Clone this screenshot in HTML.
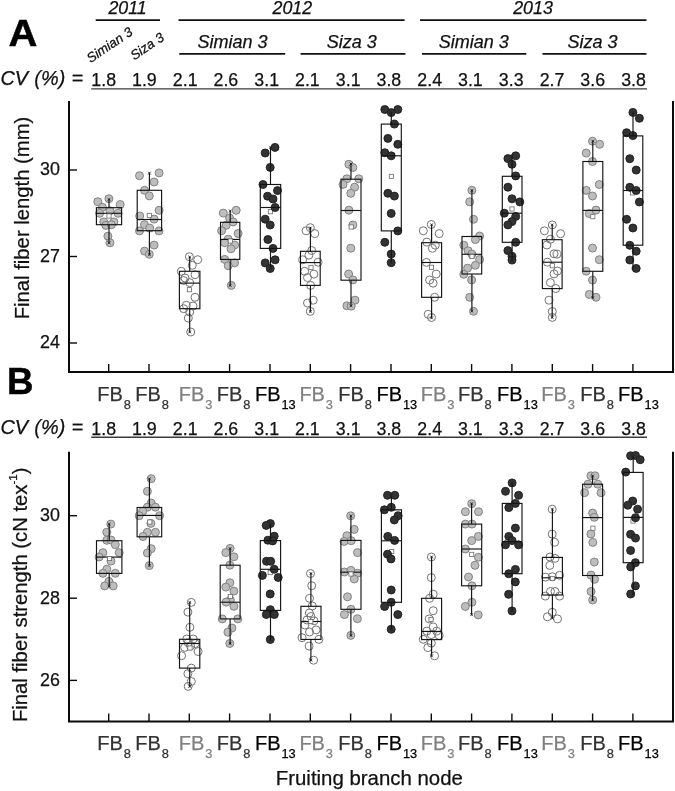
<!DOCTYPE html>
<html lang="en"><head><meta charset="utf-8"><title>Fiber box plots</title>
<style>html,body{margin:0;padding:0;background:#fff}svg{display:block}text{font-family:"Liberation Sans", Arial, sans-serif;fill:#111;stroke:#111;stroke-width:.25}.ax{stroke:#0a0a0a;stroke-width:2;fill:none;stroke-linejoin:miter}.tk{stroke:#0a0a0a;stroke-width:1.4;fill:none}.hl{stroke:#111;stroke-width:1.6;fill:none}.ul{stroke:#3a3a3a;stroke-width:1.4;fill:none}.g{fill:#bdbdbd;stroke:#7a7a7a;stroke-width:.9}.o{fill:none;stroke:#747474;stroke-width:1}.b{fill:#333;stroke:#1c1c1c;stroke-width:.9}.bx{fill:none;stroke:#141414;stroke-width:1.15}.wh{stroke:#141414;stroke-width:1.15;fill:none}.mk{stroke:#222;stroke-width:.6;fill:none}.mn{fill:#fff;stroke:#6a6a6a;stroke-width:.8}.it{font-style:italic}</style></head><body>
<svg width="675" height="791" viewBox="0 0 675 791">
<rect width="675" height="791" fill="#fff"/>
<text class="it" x="127.6" y="13.6" font-size="17.8" text-anchor="middle">2011</text>
<text class="it" x="292.3" y="13.6" font-size="17.8" text-anchor="middle">2012</text>
<text class="it" x="533.0" y="13.6" font-size="17.8" text-anchor="middle">2013</text>
<path class="hl" d="M95.7 20.1H160"/>
<path class="hl" d="M178.5 20.1H404.6"/>
<path class="hl" d="M420 20.1H646.5"/>
<text class="it" x="232.6" y="48.2" font-size="18" text-anchor="middle">Simian 3</text>
<text class="it" x="351.8" y="48.2" font-size="18" text-anchor="middle">Siza 3</text>
<text class="it" x="473.8" y="48.2" font-size="18" text-anchor="middle">Simian 3</text>
<text class="it" x="592.6" y="48.2" font-size="18" text-anchor="middle">Siza 3</text>
<path class="hl" d="M179.3 53.9H285.2"/>
<path class="hl" d="M300.6 53.9H405.4"/>
<path class="hl" d="M422 53.9H526.3"/>
<path class="hl" d="M542.5 53.9H646.5"/>
<text class="it" font-size="13.4" transform="translate(90.5,63.2) rotate(-34)">Simian 3</text>
<text class="it" font-size="13.4" transform="translate(134.2,60.5) rotate(-34)">Siza 3</text>
<text class="it" x="0.4" y="85.3" font-size="19.9" style="word-spacing:.8px">CV (%) =</text>
<text x="103.7" y="86.05" font-size="17.8" text-anchor="middle">1.8</text>
<text x="144.4" y="86.05" font-size="17.8" text-anchor="middle">1.9</text>
<text x="185.2" y="86.05" font-size="17.8" text-anchor="middle">2.1</text>
<text x="225.9" y="86.05" font-size="17.8" text-anchor="middle">2.6</text>
<text x="266.7" y="86.05" font-size="17.8" text-anchor="middle">3.1</text>
<text x="307.4" y="86.05" font-size="17.8" text-anchor="middle">2.1</text>
<text x="348.2" y="86.05" font-size="17.8" text-anchor="middle">3.1</text>
<text x="388.9" y="86.05" font-size="17.8" text-anchor="middle">3.8</text>
<text x="429.7" y="86.05" font-size="17.8" text-anchor="middle">2.4</text>
<text x="470.4" y="86.05" font-size="17.8" text-anchor="middle">3.1</text>
<text x="511.2" y="86.05" font-size="17.8" text-anchor="middle">3.3</text>
<text x="552.0" y="86.05" font-size="17.8" text-anchor="middle">2.7</text>
<text x="592.7" y="86.05" font-size="17.8" text-anchor="middle">3.6</text>
<text x="633.5" y="86.05" font-size="17.8" text-anchor="middle">3.8</text>
<path class="ul" d="M91.2 88.9H647"/>
<path class="ax" d="M69 101.0V372.0H673V101.0"/>
<path class="tk" d="M108.7 372.0V364.1"/>
<path class="tk" d="M149.0 372.0V364.1"/>
<path class="tk" d="M189.3 372.0V364.1"/>
<path class="tk" d="M229.6 372.0V364.1"/>
<path class="tk" d="M270.0 372.0V364.1"/>
<path class="tk" d="M310.3 372.0V364.1"/>
<path class="tk" d="M350.6 372.0V364.1"/>
<path class="tk" d="M391.0 372.0V364.1"/>
<path class="tk" d="M431.3 372.0V364.1"/>
<path class="tk" d="M471.6 372.0V364.1"/>
<path class="tk" d="M511.9 372.0V364.1"/>
<path class="tk" d="M552.3 372.0V364.1"/>
<path class="tk" d="M592.6 372.0V364.1"/>
<path class="tk" d="M632.9 372.0V364.1"/>
<path class="tk" d="M69 170.0H77"/>
<text x="60" y="175.4" font-size="17.9" text-anchor="end">30</text>
<path class="tk" d="M69 256.5H77"/>
<text x="60" y="261.9" font-size="17.9" text-anchor="end">27</text>
<path class="tk" d="M69 343.0H77"/>
<text x="60" y="348.4" font-size="17.9" text-anchor="end">24</text>
<text font-size="37" font-weight="bold" style="fill:#000;stroke:#000;stroke-width:.5" transform="translate(8.6,46.0) scale(1.08,1)">A</text>
<text font-size="20.25" text-anchor="middle" transform="translate(29.3,218.0) rotate(-90)">Final fiber length (mm)</text>
<circle class="g" cx="97.8" cy="201.7" r="4.0"/>
<circle class="g" cx="108.9" cy="198.7" r="4.0"/>
<circle class="g" cx="120.2" cy="204.5" r="4.0"/>
<circle class="g" cx="102.4" cy="207.3" r="4.0"/>
<circle class="g" cx="99.6" cy="213.3" r="4.0"/>
<circle class="g" cx="110" cy="210.8" r="4.0"/>
<circle class="g" cx="118.1" cy="213.3" r="4.0"/>
<circle class="g" cx="103.8" cy="221.9" r="4.0"/>
<circle class="g" cx="113.9" cy="221.9" r="4.0"/>
<circle class="g" cx="105.9" cy="225.4" r="4.0"/>
<circle class="g" cx="111.4" cy="224.7" r="4.0"/>
<circle class="g" cx="107.9" cy="236.2" r="4.0"/>
<circle class="g" cx="110" cy="242.8" r="4.0"/>
<path class="wh" d="M109.0 199.4V207.7M109.0 224.7V242.8"/>
<rect class="bx" x="96.4" y="207.7" width="25.2" height="17.0"/>
<path class="bx" d="M96.4 213.3H121.6"/>
<rect class="mn" x="106.9" y="213.9" width="4.2" height="4.2"/>
<path class="mk" d="M107.4 197.8l3.2 3.2M110.6 197.8l-3.2 3.2"/><circle cx="109.0" cy="199.4" r=".9" fill="#222"/>
<path class="mk" d="M107.4 241.2l3.2 3.2M110.6 241.2l-3.2 3.2"/><circle cx="109.0" cy="242.8" r=".9" fill="#222"/>
<circle class="g" cx="139.5" cy="175.7" r="4.0"/>
<circle class="g" cx="159.1" cy="172.9" r="4.0"/>
<circle class="g" cx="154.1" cy="182" r="4.0"/>
<circle class="g" cx="144.5" cy="190.3" r="4.0"/>
<circle class="g" cx="149.3" cy="195.9" r="4.0"/>
<circle class="g" cx="159.1" cy="210.3" r="4.0"/>
<circle class="g" cx="139.7" cy="216" r="4.0"/>
<circle class="g" cx="154.1" cy="219.1" r="4.0"/>
<circle class="g" cx="144.5" cy="224.7" r="4.0"/>
<circle class="g" cx="149.7" cy="228.1" r="4.0"/>
<circle class="g" cx="139.5" cy="230.9" r="4.0"/>
<circle class="g" cx="159" cy="230.9" r="4.0"/>
<circle class="g" cx="154.1" cy="245.1" r="4.0"/>
<circle class="g" cx="144.5" cy="251.1" r="4.0"/>
<circle class="g" cx="149.3" cy="254.3" r="4.0"/>
<path class="wh" d="M149.4 173.2V190.3M149.4 230.7V254.6"/>
<rect class="bx" x="137.2" y="190.3" width="24.4" height="40.4"/>
<path class="bx" d="M137.2 219.5H161.6"/>
<rect class="mn" x="147.2" y="213.3" width="4.2" height="4.2"/>
<path class="mk" d="M147.8 171.6l3.2 3.2M151.0 171.6l-3.2 3.2"/><circle cx="149.4" cy="173.2" r=".9" fill="#222"/>
<path class="mk" d="M147.8 253.0l3.2 3.2M151.0 253.0l-3.2 3.2"/><circle cx="149.4" cy="254.6" r=".9" fill="#222"/>
<circle class="o" cx="189.4" cy="256.7" r="4.0"/>
<circle class="o" cx="197.7" cy="259.7" r="4.0"/>
<circle class="o" cx="192.3" cy="265.3" r="4.0"/>
<circle class="o" cx="181.3" cy="271.3" r="4.0"/>
<circle class="o" cx="195" cy="274.7" r="4.0"/>
<circle class="o" cx="185" cy="278" r="4.0"/>
<circle class="o" cx="183.7" cy="280.5" r="4.0"/>
<circle class="o" cx="189.7" cy="282.7" r="4.0"/>
<circle class="o" cx="195" cy="297.3" r="4.0"/>
<circle class="o" cx="186.3" cy="305.3" r="4.0"/>
<circle class="o" cx="193" cy="306" r="4.0"/>
<circle class="o" cx="183.7" cy="308.7" r="4.0"/>
<circle class="o" cx="189.7" cy="312" r="4.0"/>
<circle class="o" cx="188.3" cy="318" r="4.0"/>
<circle class="o" cx="190.7" cy="332" r="4.0"/>
<path class="wh" d="M189.7 257.1V271.3M189.7 308.7V332.0"/>
<rect class="bx" x="179.4" y="271.3" width="20.5" height="37.4"/>
<path class="bx" d="M179.4 283.1H199.9"/>
<rect class="mn" x="187.3" y="287.6" width="4.2" height="4.2"/>
<path class="mk" d="M188.1 255.5l3.2 3.2M191.2 255.5l-3.2 3.2"/><circle cx="189.7" cy="257.1" r=".9" fill="#222"/>
<path class="mk" d="M188.1 330.4l3.2 3.2M191.2 330.4l-3.2 3.2"/><circle cx="189.7" cy="332.0" r=".9" fill="#222"/>
<circle class="g" cx="223.3" cy="213.1" r="4.0"/>
<circle class="g" cx="236.2" cy="210.3" r="4.0"/>
<circle class="g" cx="229.6" cy="218" r="4.0"/>
<circle class="g" cx="233.1" cy="222" r="4.0"/>
<circle class="g" cx="226.1" cy="225.3" r="4.0"/>
<circle class="g" cx="221.6" cy="230.7" r="4.0"/>
<circle class="g" cx="238.1" cy="233.5" r="4.0"/>
<circle class="g" cx="228.2" cy="239.2" r="4.0"/>
<circle class="g" cx="224.7" cy="242.7" r="4.0"/>
<circle class="g" cx="234.6" cy="245" r="4.0"/>
<circle class="g" cx="231" cy="248.8" r="4.0"/>
<circle class="g" cx="224.7" cy="259.4" r="4.0"/>
<circle class="g" cx="234.6" cy="262.9" r="4.0"/>
<circle class="g" cx="228.2" cy="265.7" r="4.0"/>
<circle class="g" cx="231.3" cy="285.4" r="4.0"/>
<path class="wh" d="M230.2 211.0V222.3M230.2 259.4V285.4"/>
<rect class="bx" x="220.5" y="222.3" width="19.3" height="37.1"/>
<path class="bx" d="M220.5 239.4H239.8"/>
<rect class="mn" x="228.2" y="238.9" width="4.2" height="4.2"/>
<path class="mk" d="M228.6 209.4l3.2 3.2M231.8 209.4l-3.2 3.2"/><circle cx="230.2" cy="211.0" r=".9" fill="#222"/>
<path class="mk" d="M228.6 283.8l3.2 3.2M231.8 283.8l-3.2 3.2"/><circle cx="230.2" cy="285.4" r=".9" fill="#222"/>
<rect class="mn" x="268.3" y="209.6" width="4.2" height="4.2"/>
<circle class="b" cx="275" cy="147.4" r="4.0"/>
<circle class="b" cx="265.2" cy="153" r="4.0"/>
<circle class="b" cx="270.2" cy="167.4" r="4.0"/>
<circle class="b" cx="263" cy="184.5" r="4.0"/>
<circle class="b" cx="277.5" cy="190.6" r="4.0"/>
<circle class="b" cx="267.6" cy="196.2" r="4.0"/>
<circle class="b" cx="273" cy="199" r="4.0"/>
<circle class="b" cx="275.1" cy="207.5" r="4.0"/>
<circle class="b" cx="265.2" cy="219.2" r="4.0"/>
<circle class="b" cx="270.2" cy="225" r="4.0"/>
<circle class="b" cx="267.9" cy="239.5" r="4.0"/>
<circle class="b" cx="273" cy="248.4" r="4.0"/>
<circle class="b" cx="275.1" cy="259.8" r="4.0"/>
<circle class="b" cx="265.2" cy="262.9" r="4.0"/>
<circle class="b" cx="270.2" cy="268.5" r="4.0"/>
<path class="wh" d="M270.5 147.4V184.5M270.5 248.4V268.5"/>
<rect class="bx" x="260.3" y="184.5" width="20.4" height="63.9"/>
<path class="bx" d="M260.3 207.5H280.7"/>
<path class="mk" d="M268.9 145.8l3.2 3.2M272.1 145.8l-3.2 3.2"/><circle cx="270.5" cy="147.4" r=".9" fill="#222"/>
<path class="mk" d="M268.9 266.9l3.2 3.2M272.1 266.9l-3.2 3.2"/><circle cx="270.5" cy="268.5" r=".9" fill="#222"/>
<circle class="o" cx="310.3" cy="227.7" r="4.0"/>
<circle class="o" cx="306.1" cy="230.8" r="4.0"/>
<circle class="o" cx="314.8" cy="233.6" r="4.0"/>
<circle class="o" cx="311.7" cy="250.5" r="4.0"/>
<circle class="o" cx="308.9" cy="255.1" r="4.0"/>
<circle class="o" cx="302.6" cy="259.8" r="4.0"/>
<circle class="o" cx="318.1" cy="262.2" r="4.0"/>
<circle class="o" cx="304.7" cy="271.3" r="4.0"/>
<circle class="o" cx="313.9" cy="274.1" r="4.0"/>
<circle class="o" cx="307.5" cy="277.6" r="4.0"/>
<circle class="o" cx="310.6" cy="285.4" r="4.0"/>
<circle class="o" cx="313.2" cy="300.2" r="4.0"/>
<circle class="o" cx="307.5" cy="303" r="4.0"/>
<circle class="o" cx="310.3" cy="311.4" r="4.0"/>
<path class="wh" d="M310.4 228.0V251.3M310.4 285.4V311.5"/>
<rect class="bx" x="300.5" y="251.3" width="19.7" height="34.1"/>
<path class="bx" d="M300.5 262.6H320.2"/>
<rect class="mn" x="308.9" y="265.3" width="4.2" height="4.2"/>
<path class="mk" d="M308.8 226.4l3.2 3.2M312.0 226.4l-3.2 3.2"/><circle cx="310.4" cy="228.0" r=".9" fill="#222"/>
<path class="mk" d="M308.8 309.9l3.2 3.2M312.0 309.9l-3.2 3.2"/><circle cx="310.4" cy="311.5" r=".9" fill="#222"/>
<circle class="g" cx="348.9" cy="164.3" r="4.0"/>
<circle class="g" cx="352.9" cy="167.5" r="4.0"/>
<circle class="g" cx="346.8" cy="178.8" r="4.0"/>
<circle class="g" cx="358.8" cy="178.8" r="4.0"/>
<circle class="g" cx="343" cy="184.4" r="4.0"/>
<circle class="g" cx="354.6" cy="187.2" r="4.0"/>
<circle class="g" cx="350.8" cy="193.3" r="4.0"/>
<circle class="g" cx="348.9" cy="210.2" r="4.0"/>
<circle class="g" cx="352.9" cy="225" r="4.0"/>
<circle class="g" cx="350.8" cy="248.2" r="4.0"/>
<circle class="g" cx="348.6" cy="274" r="4.0"/>
<circle class="g" cx="352.9" cy="279.9" r="4.0"/>
<circle class="g" cx="355" cy="300.2" r="4.0"/>
<circle class="g" cx="346.9" cy="305.8" r="4.0"/>
<circle class="g" cx="351.2" cy="306.2" r="4.0"/>
<path class="wh" d="M351.0 164.0V179.2M351.0 280.2V305.8"/>
<rect class="bx" x="341.0" y="179.2" width="20.0" height="101.0"/>
<path class="bx" d="M341.0 210.5H361.0"/>
<rect class="mn" x="349.1" y="224.9" width="4.2" height="4.2"/>
<path class="mk" d="M349.4 162.4l3.2 3.2M352.6 162.4l-3.2 3.2"/><circle cx="351.0" cy="164.0" r=".9" fill="#222"/>
<path class="mk" d="M349.4 304.2l3.2 3.2M352.6 304.2l-3.2 3.2"/><circle cx="351.0" cy="305.8" r=".9" fill="#222"/>
<rect class="mn" x="389.3" y="174.3" width="4.2" height="4.2"/>
<circle class="b" cx="384.8" cy="109.5" r="4.0"/>
<circle class="b" cx="397.8" cy="109.5" r="4.0"/>
<circle class="b" cx="391.2" cy="112.6" r="4.0"/>
<circle class="b" cx="394.4" cy="124.1" r="4.0"/>
<circle class="b" cx="387.9" cy="138.4" r="4.0"/>
<circle class="b" cx="397.8" cy="144.3" r="4.0"/>
<circle class="b" cx="384.8" cy="152.7" r="4.0"/>
<circle class="b" cx="391.2" cy="155.8" r="4.0"/>
<circle class="b" cx="387.9" cy="193.3" r="4.0"/>
<circle class="b" cx="394.4" cy="196.1" r="4.0"/>
<circle class="b" cx="391.2" cy="213.4" r="4.0"/>
<circle class="b" cx="397.8" cy="230.9" r="4.0"/>
<circle class="b" cx="384.8" cy="242.3" r="4.0"/>
<circle class="b" cx="391.2" cy="254.1" r="4.0"/>
<circle class="b" cx="391.2" cy="262.7" r="4.0"/>
<path class="wh" d="M391.3 111.9V124.1M391.3 230.9V263.0"/>
<rect class="bx" x="381.3" y="124.1" width="20.0" height="106.8"/>
<path class="bx" d="M381.3 155.8H401.3"/>
<path class="mk" d="M389.7 110.3l3.2 3.2M392.9 110.3l-3.2 3.2"/><circle cx="391.3" cy="111.9" r=".9" fill="#222"/>
<path class="mk" d="M389.7 261.4l3.2 3.2M392.9 261.4l-3.2 3.2"/><circle cx="391.3" cy="263.0" r=".9" fill="#222"/>
<circle class="o" cx="431.3" cy="224.5" r="4.0"/>
<circle class="o" cx="423.3" cy="230.8" r="4.0"/>
<circle class="o" cx="439.2" cy="233.6" r="4.0"/>
<circle class="o" cx="426.8" cy="242.1" r="4.0"/>
<circle class="o" cx="435.3" cy="245.2" r="4.0"/>
<circle class="o" cx="432.4" cy="248.3" r="4.0"/>
<circle class="o" cx="426.4" cy="262.4" r="4.0"/>
<circle class="o" cx="436.2" cy="274" r="4.0"/>
<circle class="o" cx="429.6" cy="280" r="4.0"/>
<circle class="o" cx="433.1" cy="283.2" r="4.0"/>
<circle class="o" cx="434.6" cy="297.3" r="4.0"/>
<circle class="o" cx="428.2" cy="314.3" r="4.0"/>
<circle class="o" cx="431.5" cy="317.5" r="4.0"/>
<path class="wh" d="M431.6 224.8V242.7M431.6 297.3V317.8"/>
<rect class="bx" x="421.6" y="242.7" width="20.0" height="54.6"/>
<path class="bx" d="M421.6 262.5H441.6"/>
<rect class="mn" x="429.4" y="265.2" width="4.2" height="4.2"/>
<path class="mk" d="M430.0 223.2l3.2 3.2M433.2 223.2l-3.2 3.2"/><circle cx="431.6" cy="224.8" r=".9" fill="#222"/>
<path class="mk" d="M430.0 316.2l3.2 3.2M433.2 316.2l-3.2 3.2"/><circle cx="431.6" cy="317.8" r=".9" fill="#222"/>
<circle class="g" cx="471.9" cy="190.3" r="4.0"/>
<circle class="g" cx="469.7" cy="201.8" r="4.0"/>
<circle class="g" cx="473.5" cy="219.3" r="4.0"/>
<circle class="g" cx="479.6" cy="236" r="4.0"/>
<circle class="g" cx="475.4" cy="239.6" r="4.0"/>
<circle class="g" cx="463.8" cy="245.2" r="4.0"/>
<circle class="g" cx="468.1" cy="250.8" r="4.0"/>
<circle class="g" cx="471.9" cy="254.1" r="4.0"/>
<circle class="g" cx="479.6" cy="259.5" r="4.0"/>
<circle class="g" cx="475.4" cy="265.3" r="4.0"/>
<circle class="g" cx="467.6" cy="268.1" r="4.0"/>
<circle class="g" cx="463.8" cy="274.3" r="4.0"/>
<circle class="g" cx="471.6" cy="280" r="4.0"/>
<circle class="g" cx="469.7" cy="297.3" r="4.0"/>
<circle class="g" cx="473.5" cy="311.3" r="4.0"/>
<path class="wh" d="M471.9 190.5V236.5M471.9 274.0V311.1"/>
<rect class="bx" x="462.0" y="236.5" width="19.7" height="37.5"/>
<path class="bx" d="M462.0 254.3H481.7"/>
<rect class="mn" x="469.9" y="254.4" width="4.2" height="4.2"/>
<path class="mk" d="M470.2 188.9l3.2 3.2M473.5 188.9l-3.2 3.2"/><circle cx="471.9" cy="190.5" r=".9" fill="#222"/>
<path class="mk" d="M470.2 309.5l3.2 3.2M473.5 309.5l-3.2 3.2"/><circle cx="471.9" cy="311.1" r=".9" fill="#222"/>
<rect class="mn" x="509.9" y="206.9" width="4.2" height="4.2"/>
<circle class="b" cx="515.7" cy="155.8" r="4.0"/>
<circle class="b" cx="507.9" cy="158.6" r="4.0"/>
<circle class="b" cx="512" cy="164.3" r="4.0"/>
<circle class="b" cx="515.7" cy="175.9" r="4.0"/>
<circle class="b" cx="507.9" cy="187.2" r="4.0"/>
<circle class="b" cx="512" cy="198.8" r="4.0"/>
<circle class="b" cx="519.8" cy="201.9" r="4.0"/>
<circle class="b" cx="504.3" cy="213.2" r="4.0"/>
<circle class="b" cx="515.7" cy="216.4" r="4.0"/>
<circle class="b" cx="512" cy="221.6" r="4.0"/>
<circle class="b" cx="507.9" cy="224.9" r="4.0"/>
<circle class="b" cx="515.7" cy="242.3" r="4.0"/>
<circle class="b" cx="507.9" cy="250.6" r="4.0"/>
<circle class="b" cx="512" cy="256.3" r="4.0"/>
<circle class="b" cx="512" cy="260.1" r="4.0"/>
<path class="wh" d="M512.1 155.5V176.3M512.1 242.3V260.8"/>
<rect class="bx" x="502.3" y="176.3" width="19.7" height="66.0"/>
<path class="bx" d="M502.3 213.2H522.0"/>
<path class="mk" d="M510.5 153.9l3.2 3.2M513.8 153.9l-3.2 3.2"/><circle cx="512.1" cy="155.5" r=".9" fill="#222"/>
<path class="mk" d="M510.5 259.2l3.2 3.2M513.8 259.2l-3.2 3.2"/><circle cx="512.1" cy="260.8" r=".9" fill="#222"/>
<circle class="o" cx="552.3" cy="224.9" r="4.0"/>
<circle class="o" cx="544.4" cy="230.8" r="4.0"/>
<circle class="o" cx="560.6" cy="233.7" r="4.0"/>
<circle class="o" cx="550.4" cy="239.3" r="4.0"/>
<circle class="o" cx="546.9" cy="245" r="4.0"/>
<circle class="o" cx="554" cy="253.8" r="4.0"/>
<circle class="o" cx="557" cy="254.2" r="4.0"/>
<circle class="o" cx="547.4" cy="262.2" r="4.0"/>
<circle class="o" cx="557.5" cy="271" r="4.0"/>
<circle class="o" cx="554" cy="273.9" r="4.0"/>
<circle class="o" cx="550.4" cy="282.6" r="4.0"/>
<circle class="o" cx="555.8" cy="288.5" r="4.0"/>
<circle class="o" cx="549" cy="300.2" r="4.0"/>
<circle class="o" cx="552.3" cy="311.5" r="4.0"/>
<circle class="o" cx="552.3" cy="317.4" r="4.0"/>
<path class="wh" d="M552.2 224.9V239.7M552.2 288.6V317.4"/>
<rect class="bx" x="542.4" y="239.7" width="19.7" height="48.9"/>
<path class="bx" d="M542.4 262.2H562.1"/>
<rect class="mn" x="550.2" y="263.6" width="4.2" height="4.2"/>
<path class="mk" d="M550.6 223.3l3.2 3.2M553.9 223.3l-3.2 3.2"/><circle cx="552.2" cy="224.9" r=".9" fill="#222"/>
<path class="mk" d="M550.6 315.8l3.2 3.2M553.9 315.8l-3.2 3.2"/><circle cx="552.2" cy="317.4" r=".9" fill="#222"/>
<circle class="g" cx="592.5" cy="141.2" r="4.0"/>
<circle class="g" cx="599.6" cy="144.3" r="4.0"/>
<circle class="g" cx="586.2" cy="153.1" r="4.0"/>
<circle class="g" cx="592.5" cy="161.5" r="4.0"/>
<circle class="g" cx="599.3" cy="184.5" r="4.0"/>
<circle class="g" cx="586.2" cy="190.4" r="4.0"/>
<circle class="g" cx="592.5" cy="196" r="4.0"/>
<circle class="g" cx="596" cy="210.1" r="4.0"/>
<circle class="g" cx="589.3" cy="213.6" r="4.0"/>
<circle class="g" cx="592.5" cy="248.1" r="4.0"/>
<circle class="g" cx="599.3" cy="259.7" r="4.0"/>
<circle class="g" cx="586.2" cy="271.2" r="4.0"/>
<circle class="g" cx="592.5" cy="280.1" r="4.0"/>
<circle class="g" cx="589.3" cy="294.4" r="4.0"/>
<circle class="g" cx="596" cy="297.3" r="4.0"/>
<path class="wh" d="M592.8 141.2V161.5M592.8 271.3V297.7"/>
<rect class="bx" x="582.9" y="161.5" width="19.9" height="109.8"/>
<path class="bx" d="M582.9 210.4H602.8"/>
<rect class="mn" x="590.7" y="214.6" width="4.2" height="4.2"/>
<path class="mk" d="M591.2 139.6l3.2 3.2M594.4 139.6l-3.2 3.2"/><circle cx="592.8" cy="141.2" r=".9" fill="#222"/>
<path class="mk" d="M591.2 296.1l3.2 3.2M594.4 296.1l-3.2 3.2"/><circle cx="592.8" cy="297.7" r=".9" fill="#222"/>
<rect class="mn" x="630.5" y="190.8" width="4.2" height="4.2"/>
<circle class="b" cx="632.9" cy="112.4" r="4.0"/>
<circle class="b" cx="639.4" cy="118.3" r="4.0"/>
<circle class="b" cx="626.6" cy="132.7" r="4.0"/>
<circle class="b" cx="632.9" cy="135.6" r="4.0"/>
<circle class="b" cx="629.8" cy="158.7" r="4.0"/>
<circle class="b" cx="636.2" cy="170.1" r="4.0"/>
<circle class="b" cx="629.8" cy="187.3" r="4.0"/>
<circle class="b" cx="636.2" cy="190.5" r="4.0"/>
<circle class="b" cx="639.4" cy="202" r="4.0"/>
<circle class="b" cx="626.6" cy="219.3" r="4.0"/>
<circle class="b" cx="632.9" cy="228" r="4.0"/>
<circle class="b" cx="629.8" cy="245.3" r="4.0"/>
<circle class="b" cx="636.2" cy="251.2" r="4.0"/>
<circle class="b" cx="629.8" cy="260" r="4.0"/>
<circle class="b" cx="636.2" cy="268.4" r="4.0"/>
<path class="wh" d="M633.0 112.4V135.9M633.0 245.2V268.5"/>
<rect class="bx" x="623.2" y="135.9" width="19.6" height="109.3"/>
<path class="bx" d="M623.2 190.5H642.8"/>
<path class="mk" d="M631.4 110.8l3.2 3.2M634.6 110.8l-3.2 3.2"/><circle cx="633.0" cy="112.4" r=".9" fill="#222"/>
<path class="mk" d="M631.4 266.9l3.2 3.2M634.6 266.9l-3.2 3.2"/><circle cx="633.0" cy="268.5" r=".9" fill="#222"/>
<text x="97.2" y="401.3" font-size="20" style="fill:#333;stroke:#333">FB<tspan font-size="12.8" dx="0.9" dy="7.2">8</tspan></text>
<text x="135.2" y="401.3" font-size="20" style="fill:#333;stroke:#333">FB<tspan font-size="12.8" dx="0.9" dy="7.2">8</tspan></text>
<text x="178.7" y="401.3" font-size="20" style="fill:#808080;stroke:#808080">FB<tspan font-size="12.8" dx="0.9" dy="7.2">3</tspan></text>
<text x="216.7" y="401.3" font-size="20" style="fill:#333;stroke:#333">FB<tspan font-size="12.8" dx="0.9" dy="7.2">8</tspan></text>
<text x="255.0" y="401.3" font-size="20" style="fill:#000;stroke:#000">FB<tspan font-size="12.8" dx="0.9" dy="7.2">13</tspan></text>
<text x="299.4" y="401.3" font-size="20" style="fill:#808080;stroke:#808080">FB<tspan font-size="12.8" dx="0.9" dy="7.2">3</tspan></text>
<text x="338.3" y="401.3" font-size="20" style="fill:#333;stroke:#333">FB<tspan font-size="12.8" dx="0.9" dy="7.2">8</tspan></text>
<text x="376.5" y="401.3" font-size="20" style="fill:#000;stroke:#000">FB<tspan font-size="12.8" dx="0.9" dy="7.2">13</tspan></text>
<text x="420.7" y="401.3" font-size="20" style="fill:#808080;stroke:#808080">FB<tspan font-size="12.8" dx="0.9" dy="7.2">3</tspan></text>
<text x="458.1" y="401.3" font-size="20" style="fill:#333;stroke:#333">FB<tspan font-size="12.8" dx="0.9" dy="7.2">8</tspan></text>
<text x="497.1" y="401.3" font-size="20" style="fill:#000;stroke:#000">FB<tspan font-size="12.8" dx="0.9" dy="7.2">13</tspan></text>
<text x="541.3" y="401.3" font-size="20" style="fill:#808080;stroke:#808080">FB<tspan font-size="12.8" dx="0.9" dy="7.2">3</tspan></text>
<text x="580.2" y="401.3" font-size="20" style="fill:#333;stroke:#333">FB<tspan font-size="12.8" dx="0.9" dy="7.2">8</tspan></text>
<text x="618.1" y="401.3" font-size="20" style="fill:#000;stroke:#000">FB<tspan font-size="12.8" dx="0.9" dy="7.2">13</tspan></text>
<text class="it" x="0.4" y="433.9" font-size="19.9" style="word-spacing:.8px">CV (%) =</text>
<text x="103.7" y="434.65" font-size="17.8" text-anchor="middle">1.8</text>
<text x="144.4" y="434.65" font-size="17.8" text-anchor="middle">1.9</text>
<text x="185.2" y="434.65" font-size="17.8" text-anchor="middle">2.1</text>
<text x="225.9" y="434.65" font-size="17.8" text-anchor="middle">2.6</text>
<text x="266.7" y="434.65" font-size="17.8" text-anchor="middle">3.1</text>
<text x="307.4" y="434.65" font-size="17.8" text-anchor="middle">2.1</text>
<text x="348.2" y="434.65" font-size="17.8" text-anchor="middle">3.1</text>
<text x="388.9" y="434.65" font-size="17.8" text-anchor="middle">3.8</text>
<text x="429.7" y="434.65" font-size="17.8" text-anchor="middle">2.4</text>
<text x="470.4" y="434.65" font-size="17.8" text-anchor="middle">3.1</text>
<text x="511.2" y="434.65" font-size="17.8" text-anchor="middle">3.3</text>
<text x="552.0" y="434.65" font-size="17.8" text-anchor="middle">2.7</text>
<text x="592.7" y="434.65" font-size="17.8" text-anchor="middle">3.6</text>
<text x="633.5" y="434.65" font-size="17.8" text-anchor="middle">3.8</text>
<path class="ul" d="M91.2 437.2H647"/>
<path class="ax" d="M69 451.8V721.4H673V451.8"/>
<path class="tk" d="M108.7 721.4V713.5"/>
<path class="tk" d="M149.0 721.4V713.5"/>
<path class="tk" d="M189.3 721.4V713.5"/>
<path class="tk" d="M229.6 721.4V713.5"/>
<path class="tk" d="M270.0 721.4V713.5"/>
<path class="tk" d="M310.3 721.4V713.5"/>
<path class="tk" d="M350.6 721.4V713.5"/>
<path class="tk" d="M391.0 721.4V713.5"/>
<path class="tk" d="M431.3 721.4V713.5"/>
<path class="tk" d="M471.6 721.4V713.5"/>
<path class="tk" d="M511.9 721.4V713.5"/>
<path class="tk" d="M552.3 721.4V713.5"/>
<path class="tk" d="M592.6 721.4V713.5"/>
<path class="tk" d="M632.9 721.4V713.5"/>
<path class="tk" d="M69 515.7H77"/>
<text x="60" y="521.1" font-size="17.9" text-anchor="end">30</text>
<path class="tk" d="M69 598.2H77"/>
<text x="60" y="603.6" font-size="17.9" text-anchor="end">28</text>
<path class="tk" d="M69 680.4H77"/>
<text x="60" y="685.8" font-size="17.9" text-anchor="end">26</text>
<text font-size="37" font-weight="bold" style="fill:#000;stroke:#000;stroke-width:.5" transform="translate(7.0,394.4) scale(0.99,1)">B</text>
<text font-size="20.25" text-anchor="middle" transform="translate(27.4,594.8) rotate(-90)">Final fiber strength (cN tex<tspan font-size="11.5" dy="-10.8">-1</tspan><tspan dy="10.8">)</tspan></text>
<circle class="g" cx="110.8" cy="524.1" r="4.0"/>
<circle class="g" cx="106.8" cy="532.2" r="4.0"/>
<circle class="g" cx="106.8" cy="540.3" r="4.0"/>
<circle class="g" cx="111" cy="540" r="4.0"/>
<circle class="g" cx="115.3" cy="544.7" r="4.0"/>
<circle class="g" cx="102.9" cy="552.7" r="4.0"/>
<circle class="g" cx="119.2" cy="552.7" r="4.0"/>
<circle class="g" cx="99.1" cy="557" r="4.0"/>
<circle class="g" cx="111" cy="561.1" r="4.0"/>
<circle class="g" cx="106.8" cy="569.2" r="4.0"/>
<circle class="g" cx="102.9" cy="573.3" r="4.0"/>
<circle class="g" cx="115.3" cy="573.3" r="4.0"/>
<circle class="g" cx="108.9" cy="581.4" r="4.0"/>
<circle class="g" cx="104.7" cy="585.9" r="4.0"/>
<circle class="g" cx="113.2" cy="585.9" r="4.0"/>
<path class="wh" d="M109.2 524.1V540.7M109.2 573.4V586.3"/>
<rect class="bx" x="96.5" y="540.7" width="25.4" height="32.7"/>
<path class="bx" d="M96.5 557.1H121.9"/>
<rect class="mn" x="107.4" y="556.4" width="4.2" height="4.2"/>
<path class="mk" d="M107.6 522.5l3.2 3.2M110.8 522.5l-3.2 3.2"/><circle cx="109.2" cy="524.1" r=".9" fill="#222"/>
<path class="mk" d="M107.6 584.7l3.2 3.2M110.8 584.7l-3.2 3.2"/><circle cx="109.2" cy="586.3" r=".9" fill="#222"/>
<circle class="g" cx="151.2" cy="478.7" r="4.0"/>
<circle class="g" cx="147.4" cy="491.3" r="4.0"/>
<circle class="g" cx="151.2" cy="503" r="4.0"/>
<circle class="g" cx="147.4" cy="507.2" r="4.0"/>
<circle class="g" cx="155.4" cy="507.2" r="4.0"/>
<circle class="g" cx="142.7" cy="511.4" r="4.0"/>
<circle class="g" cx="139.2" cy="515.7" r="4.0"/>
<circle class="g" cx="159.6" cy="515.7" r="4.0"/>
<circle class="g" cx="150.9" cy="523.4" r="4.0"/>
<circle class="g" cx="147.4" cy="532.3" r="4.0"/>
<circle class="g" cx="155.4" cy="532.3" r="4.0"/>
<circle class="g" cx="143" cy="536.5" r="4.0"/>
<circle class="g" cx="151.2" cy="548.7" r="4.0"/>
<circle class="g" cx="147.4" cy="553" r="4.0"/>
<circle class="g" cx="149.3" cy="565.6" r="4.0"/>
<path class="wh" d="M149.4 478.8V507.5M149.4 536.8V565.6"/>
<rect class="bx" x="137.1" y="507.5" width="24.6" height="29.3"/>
<path class="bx" d="M137.1 515.4H161.7"/>
<rect class="mn" x="147.7" y="519.9" width="4.2" height="4.2"/>
<path class="mk" d="M147.8 477.2l3.2 3.2M151.0 477.2l-3.2 3.2"/><circle cx="149.4" cy="478.8" r=".9" fill="#222"/>
<path class="mk" d="M147.8 564.0l3.2 3.2M151.0 564.0l-3.2 3.2"/><circle cx="149.4" cy="565.6" r=".9" fill="#222"/>
<circle class="o" cx="191.3" cy="602.4" r="4.0"/>
<circle class="o" cx="187.9" cy="612.1" r="4.0"/>
<circle class="o" cx="189.9" cy="627.3" r="4.0"/>
<circle class="o" cx="186.8" cy="639" r="4.0"/>
<circle class="o" cx="193.2" cy="639" r="4.0"/>
<circle class="o" cx="188.2" cy="642.8" r="4.0"/>
<circle class="o" cx="195.3" cy="643.5" r="4.0"/>
<circle class="o" cx="184.7" cy="647.4" r="4.0"/>
<circle class="o" cx="198.1" cy="651.5" r="4.0"/>
<circle class="o" cx="181.6" cy="655.7" r="4.0"/>
<circle class="o" cx="191.3" cy="668.1" r="4.0"/>
<circle class="o" cx="187.9" cy="673.7" r="4.0"/>
<circle class="o" cx="191.3" cy="681.5" r="4.0"/>
<circle class="o" cx="188.2" cy="686.4" r="4.0"/>
<circle class="o" cx="190.5" cy="646" r="4.0"/>
<path class="wh" d="M189.7 602.4V639.3M189.7 668.1V686.4"/>
<rect class="bx" x="179.5" y="639.3" width="20.3" height="28.8"/>
<path class="bx" d="M179.5 643.5H199.8"/>
<rect class="mn" x="187.9" y="645.9" width="4.2" height="4.2"/>
<path class="mk" d="M188.1 600.8l3.2 3.2M191.2 600.8l-3.2 3.2"/><circle cx="189.7" cy="602.4" r=".9" fill="#222"/>
<path class="mk" d="M188.1 684.8l3.2 3.2M191.2 684.8l-3.2 3.2"/><circle cx="189.7" cy="686.4" r=".9" fill="#222"/>
<circle class="g" cx="230.1" cy="548.4" r="4.0"/>
<circle class="g" cx="225.8" cy="552.6" r="4.0"/>
<circle class="g" cx="233.9" cy="556.8" r="4.0"/>
<circle class="g" cx="229.9" cy="565.2" r="4.0"/>
<circle class="g" cx="229.9" cy="582.8" r="4.0"/>
<circle class="g" cx="225.8" cy="587.1" r="4.0"/>
<circle class="g" cx="233.9" cy="591.1" r="4.0"/>
<circle class="g" cx="230.3" cy="600" r="4.0"/>
<circle class="g" cx="226.1" cy="602.1" r="4.0"/>
<circle class="g" cx="233.9" cy="606.3" r="4.0"/>
<circle class="g" cx="222.3" cy="618.9" r="4.0"/>
<circle class="g" cx="237.8" cy="618.9" r="4.0"/>
<circle class="g" cx="231.9" cy="628" r="4.0"/>
<circle class="g" cx="227.9" cy="632.2" r="4.0"/>
<circle class="g" cx="229.8" cy="643.5" r="4.0"/>
<path class="wh" d="M230.1 548.6V565.2M230.1 618.9V643.5"/>
<rect class="bx" x="220.2" y="565.2" width="19.9" height="53.7"/>
<path class="bx" d="M220.2 602.2H240.1"/>
<rect class="mn" x="228.2" y="594.4" width="4.2" height="4.2"/>
<path class="mk" d="M228.5 547.0l3.2 3.2M231.7 547.0l-3.2 3.2"/><circle cx="230.1" cy="548.6" r=".9" fill="#222"/>
<path class="mk" d="M228.5 641.9l3.2 3.2M231.7 641.9l-3.2 3.2"/><circle cx="230.1" cy="643.5" r=".9" fill="#222"/>
<rect class="mn" x="268.1" y="570.5" width="4.2" height="4.2"/>
<circle class="b" cx="270.4" cy="523.6" r="4.0"/>
<circle class="b" cx="266.2" cy="525.4" r="4.0"/>
<circle class="b" cx="274.2" cy="536.2" r="4.0"/>
<circle class="b" cx="267.9" cy="540.2" r="4.0"/>
<circle class="b" cx="272.6" cy="540.9" r="4.0"/>
<circle class="b" cx="266.5" cy="561.3" r="4.0"/>
<circle class="b" cx="270.7" cy="561.3" r="4.0"/>
<circle class="b" cx="274.2" cy="569.3" r="4.0"/>
<circle class="b" cx="262.4" cy="575.4" r="4.0"/>
<circle class="b" cx="278.2" cy="577.5" r="4.0"/>
<circle class="b" cx="270.2" cy="594" r="4.0"/>
<circle class="b" cx="270.3" cy="609.7" r="4.0"/>
<circle class="b" cx="266.3" cy="614.5" r="4.0"/>
<circle class="b" cx="274.3" cy="614.5" r="4.0"/>
<circle class="b" cx="270.3" cy="639.5" r="4.0"/>
<path class="wh" d="M270.5 524.0V540.6M270.5 610.4V639.8"/>
<rect class="bx" x="260.3" y="540.6" width="20.3" height="69.8"/>
<path class="bx" d="M260.3 569.3H280.6"/>
<path class="mk" d="M268.9 522.4l3.2 3.2M272.1 522.4l-3.2 3.2"/><circle cx="270.5" cy="524.0" r=".9" fill="#222"/>
<path class="mk" d="M268.9 638.2l3.2 3.2M272.1 638.2l-3.2 3.2"/><circle cx="270.5" cy="639.8" r=".9" fill="#222"/>
<circle class="o" cx="310.5" cy="573.5" r="4.0"/>
<circle class="o" cx="311.7" cy="585.7" r="4.0"/>
<circle class="o" cx="309.5" cy="598.3" r="4.0"/>
<circle class="o" cx="312.3" cy="606" r="4.0"/>
<circle class="o" cx="309.4" cy="613" r="4.0"/>
<circle class="o" cx="307" cy="620" r="4.0"/>
<circle class="o" cx="314" cy="620.8" r="4.0"/>
<circle class="o" cx="304.9" cy="625" r="4.0"/>
<circle class="o" cx="316.1" cy="629.9" r="4.0"/>
<circle class="o" cx="302" cy="637.7" r="4.0"/>
<circle class="o" cx="318.9" cy="639.4" r="4.0"/>
<circle class="o" cx="309.1" cy="646.1" r="4.0"/>
<circle class="o" cx="313.6" cy="660.2" r="4.0"/>
<circle class="o" cx="311" cy="616.5" r="4.0"/>
<circle class="o" cx="309.5" cy="632" r="4.0"/>
<path class="wh" d="M310.9 573.5V606.3M310.9 639.4V660.2"/>
<rect class="bx" x="300.9" y="606.3" width="20.1" height="33.1"/>
<path class="bx" d="M300.9 621.5H321.0"/>
<rect class="mn" x="308.7" y="619.4" width="4.2" height="4.2"/>
<path class="mk" d="M309.3 571.9l3.2 3.2M312.6 571.9l-3.2 3.2"/><circle cx="310.9" cy="573.5" r=".9" fill="#222"/>
<path class="mk" d="M309.3 658.6l3.2 3.2M312.6 658.6l-3.2 3.2"/><circle cx="310.9" cy="660.2" r=".9" fill="#222"/>
<circle class="g" cx="350.7" cy="515.8" r="4.0"/>
<circle class="g" cx="354.2" cy="529.4" r="4.0"/>
<circle class="g" cx="346.9" cy="535.7" r="4.0"/>
<circle class="g" cx="344.1" cy="541.4" r="4.0"/>
<circle class="g" cx="351.2" cy="540.7" r="4.0"/>
<circle class="g" cx="357.5" cy="552.6" r="4.0"/>
<circle class="g" cx="344.4" cy="572" r="4.0"/>
<circle class="g" cx="351" cy="570.4" r="4.0"/>
<circle class="g" cx="357.6" cy="573.2" r="4.0"/>
<circle class="g" cx="354.2" cy="579" r="4.0"/>
<circle class="g" cx="347.5" cy="596.8" r="4.0"/>
<circle class="g" cx="351" cy="609.3" r="4.0"/>
<circle class="g" cx="344.4" cy="614.6" r="4.0"/>
<circle class="g" cx="357.4" cy="618.7" r="4.0"/>
<circle class="g" cx="350.8" cy="635.4" r="4.0"/>
<path class="wh" d="M350.9 515.8V540.4M350.9 609.3V635.4"/>
<rect class="bx" x="340.9" y="540.4" width="20.1" height="68.9"/>
<path class="bx" d="M340.9 572.2H361.0"/>
<rect class="mn" x="348.9" y="571.9" width="4.2" height="4.2"/>
<path class="mk" d="M349.3 514.2l3.2 3.2M352.6 514.2l-3.2 3.2"/><circle cx="350.9" cy="515.8" r=".9" fill="#222"/>
<path class="mk" d="M349.3 633.8l3.2 3.2M352.6 633.8l-3.2 3.2"/><circle cx="350.9" cy="635.4" r=".9" fill="#222"/>
<rect class="mn" x="389.6" y="549.5" width="4.2" height="4.2"/>
<circle class="b" cx="387.5" cy="495.3" r="4.0"/>
<circle class="b" cx="394.8" cy="495.3" r="4.0"/>
<circle class="b" cx="391.3" cy="507.3" r="4.0"/>
<circle class="b" cx="384.4" cy="509.8" r="4.0"/>
<circle class="b" cx="398.1" cy="515.7" r="4.0"/>
<circle class="b" cx="394.3" cy="520" r="4.0"/>
<circle class="b" cx="387.8" cy="536.4" r="4.0"/>
<circle class="b" cx="394.6" cy="540.4" r="4.0"/>
<circle class="b" cx="387.5" cy="554.2" r="4.0"/>
<circle class="b" cx="391" cy="558.9" r="4.0"/>
<circle class="b" cx="391.2" cy="590" r="4.0"/>
<circle class="b" cx="391.2" cy="602.3" r="4.0"/>
<circle class="b" cx="384.6" cy="606.5" r="4.0"/>
<circle class="b" cx="397.8" cy="614.6" r="4.0"/>
<circle class="b" cx="391.2" cy="629.3" r="4.0"/>
<path class="wh" d="M391.4 495.8V509.8M391.4 602.3V629.3"/>
<rect class="bx" x="381.4" y="509.8" width="20.1" height="92.5"/>
<path class="bx" d="M381.4 540.8H401.5"/>
<path class="mk" d="M389.8 494.2l3.2 3.2M393.1 494.2l-3.2 3.2"/><circle cx="391.4" cy="495.8" r=".9" fill="#222"/>
<path class="mk" d="M389.8 627.7l3.2 3.2M393.1 627.7l-3.2 3.2"/><circle cx="391.4" cy="629.3" r=".9" fill="#222"/>
<circle class="o" cx="431.4" cy="557" r="4.0"/>
<circle class="o" cx="431.3" cy="577.6" r="4.0"/>
<circle class="o" cx="433.2" cy="594.2" r="4.0"/>
<circle class="o" cx="429.6" cy="598.3" r="4.0"/>
<circle class="o" cx="433.2" cy="610.7" r="4.0"/>
<circle class="o" cx="429.2" cy="618.9" r="4.0"/>
<circle class="o" cx="433.2" cy="626.9" r="4.0"/>
<circle class="o" cx="426.8" cy="631.1" r="4.0"/>
<circle class="o" cx="436.7" cy="631.1" r="4.0"/>
<circle class="o" cx="431.3" cy="634.6" r="4.0"/>
<circle class="o" cx="439.2" cy="635.4" r="4.0"/>
<circle class="o" cx="423.3" cy="639.3" r="4.0"/>
<circle class="o" cx="431.3" cy="643.1" r="4.0"/>
<circle class="o" cx="427.8" cy="647.6" r="4.0"/>
<circle class="o" cx="434.6" cy="655.8" r="4.0"/>
<path class="wh" d="M431.6 557.0V598.3M431.6 639.6V655.8"/>
<rect class="bx" x="421.6" y="598.3" width="20.0" height="41.3"/>
<path class="bx" d="M421.6 631.4H441.6"/>
<rect class="mn" x="428.9" y="617.3" width="4.2" height="4.2"/>
<path class="mk" d="M430.0 555.4l3.2 3.2M433.2 555.4l-3.2 3.2"/><circle cx="431.6" cy="557.0" r=".9" fill="#222"/>
<path class="mk" d="M430.0 654.2l3.2 3.2M433.2 654.2l-3.2 3.2"/><circle cx="431.6" cy="655.8" r=".9" fill="#222"/>
<circle class="g" cx="471.7" cy="503.7" r="4.0"/>
<circle class="g" cx="465.4" cy="511.7" r="4.0"/>
<circle class="g" cx="478.5" cy="511.7" r="4.0"/>
<circle class="g" cx="465.4" cy="524.1" r="4.0"/>
<circle class="g" cx="472" cy="524.1" r="4.0"/>
<circle class="g" cx="478.4" cy="536.4" r="4.0"/>
<circle class="g" cx="471.7" cy="540.6" r="4.0"/>
<circle class="g" cx="465.4" cy="549" r="4.0"/>
<circle class="g" cx="478.4" cy="557.2" r="4.0"/>
<circle class="g" cx="475" cy="565.3" r="4.0"/>
<circle class="g" cx="468.5" cy="577" r="4.0"/>
<circle class="g" cx="471.9" cy="585.8" r="4.0"/>
<circle class="g" cx="471.9" cy="602.3" r="4.0"/>
<circle class="g" cx="465.3" cy="606.5" r="4.0"/>
<circle class="g" cx="478.2" cy="614.9" r="4.0"/>
<path class="wh" d="M471.6 503.7V524.1M471.6 585.8V614.6"/>
<rect class="bx" x="461.6" y="524.1" width="20.1" height="61.7"/>
<path class="bx" d="M461.6 549.0H481.7"/>
<rect class="mn" x="469.6" y="552.3" width="4.2" height="4.2"/>
<path class="mk" d="M470.0 502.1l3.2 3.2M473.2 502.1l-3.2 3.2"/><circle cx="471.6" cy="503.7" r=".9" fill="#222"/>
<path class="mk" d="M470.0 613.0l3.2 3.2M473.2 613.0l-3.2 3.2"/><circle cx="471.6" cy="614.6" r=".9" fill="#222"/>
<rect class="mn" x="509.9" y="537.9" width="4.2" height="4.2"/>
<circle class="b" cx="512.1" cy="482.9" r="4.0"/>
<circle class="b" cx="505.5" cy="491.3" r="4.0"/>
<circle class="b" cx="518.6" cy="495.3" r="4.0"/>
<circle class="b" cx="515.4" cy="503.4" r="4.0"/>
<circle class="b" cx="508.8" cy="507.6" r="4.0"/>
<circle class="b" cx="515.4" cy="528.1" r="4.0"/>
<circle class="b" cx="508.8" cy="536.4" r="4.0"/>
<circle class="b" cx="512.1" cy="540.6" r="4.0"/>
<circle class="b" cx="505.5" cy="544.8" r="4.0"/>
<circle class="b" cx="518.6" cy="544.8" r="4.0"/>
<circle class="b" cx="515.4" cy="569.4" r="4.0"/>
<circle class="b" cx="508.7" cy="573.7" r="4.0"/>
<circle class="b" cx="515.3" cy="581.9" r="4.0"/>
<circle class="b" cx="508.6" cy="594.3" r="4.0"/>
<circle class="b" cx="512" cy="610.9" r="4.0"/>
<path class="wh" d="M512.1 483.0V503.4M512.1 573.7V610.9"/>
<rect class="bx" x="502.3" y="503.4" width="19.7" height="70.3"/>
<path class="bx" d="M502.3 541.7H522.0"/>
<path class="mk" d="M510.5 481.4l3.2 3.2M513.8 481.4l-3.2 3.2"/><circle cx="512.1" cy="483.0" r=".9" fill="#222"/>
<path class="mk" d="M510.5 609.3l3.2 3.2M513.8 609.3l-3.2 3.2"/><circle cx="512.1" cy="610.9" r=".9" fill="#222"/>
<circle class="o" cx="552.2" cy="509.2" r="4.0"/>
<circle class="o" cx="552.2" cy="534.1" r="4.0"/>
<circle class="o" cx="554.6" cy="542.3" r="4.0"/>
<circle class="o" cx="550" cy="557" r="4.0"/>
<circle class="o" cx="555" cy="558.4" r="4.0"/>
<circle class="o" cx="549.8" cy="565.4" r="4.0"/>
<circle class="o" cx="545.5" cy="577.1" r="4.0"/>
<circle class="o" cx="552.3" cy="576.7" r="4.0"/>
<circle class="o" cx="559.6" cy="575.3" r="4.0"/>
<circle class="o" cx="550.5" cy="591.5" r="4.0"/>
<circle class="o" cx="555" cy="591.5" r="4.0"/>
<circle class="o" cx="545.3" cy="596.1" r="4.0"/>
<circle class="o" cx="559.6" cy="596.1" r="4.0"/>
<circle class="o" cx="552.3" cy="612.3" r="4.0"/>
<circle class="o" cx="547.4" cy="616.8" r="4.0"/>
<circle class="o" cx="557.5" cy="618.9" r="4.0"/>
<path class="wh" d="M552.4 509.2V557.4M552.4 595.0V618.2"/>
<rect class="bx" x="542.4" y="557.4" width="20.0" height="37.6"/>
<path class="bx" d="M542.4 577.8H562.4"/>
<rect class="mn" x="550.3" y="576.4" width="4.2" height="4.2"/>
<path class="mk" d="M550.8 507.6l3.2 3.2M554.0 507.6l-3.2 3.2"/><circle cx="552.4" cy="509.2" r=".9" fill="#222"/>
<path class="mk" d="M550.8 616.6l3.2 3.2M554.0 616.6l-3.2 3.2"/><circle cx="552.4" cy="618.2" r=".9" fill="#222"/>
<circle class="g" cx="590.9" cy="475.8" r="4.0"/>
<circle class="g" cx="595" cy="475.8" r="4.0"/>
<circle class="g" cx="588" cy="484.2" r="4.0"/>
<circle class="g" cx="597.8" cy="484.2" r="4.0"/>
<circle class="g" cx="584.6" cy="492.7" r="4.0"/>
<circle class="g" cx="601" cy="492.7" r="4.0"/>
<circle class="g" cx="592.6" cy="513.1" r="4.0"/>
<circle class="g" cx="594.3" cy="517.3" r="4.0"/>
<circle class="g" cx="590.9" cy="534" r="4.0"/>
<circle class="g" cx="592.8" cy="542.4" r="4.0"/>
<circle class="g" cx="594.3" cy="562" r="4.0"/>
<circle class="g" cx="591" cy="575.1" r="4.0"/>
<circle class="g" cx="594.6" cy="579.3" r="4.0"/>
<circle class="g" cx="591" cy="591.5" r="4.0"/>
<circle class="g" cx="592.7" cy="600" r="4.0"/>
<path class="wh" d="M592.6 476.0V484.2M592.6 575.5V600.0"/>
<rect class="bx" x="582.6" y="484.2" width="20.0" height="91.3"/>
<path class="bx" d="M582.6 517.6H602.6"/>
<rect class="mn" x="590.8" y="526.1" width="4.2" height="4.2"/>
<path class="mk" d="M591.0 474.4l3.2 3.2M594.2 474.4l-3.2 3.2"/><circle cx="592.6" cy="476.0" r=".9" fill="#222"/>
<path class="mk" d="M591.0 598.4l3.2 3.2M594.2 598.4l-3.2 3.2"/><circle cx="592.6" cy="600.0" r=".9" fill="#222"/>
<rect class="mn" x="630.9" y="518.9" width="4.2" height="4.2"/>
<circle class="b" cx="630.6" cy="455.8" r="4.0"/>
<circle class="b" cx="635.5" cy="455.5" r="4.0"/>
<circle class="b" cx="640.2" cy="459.7" r="4.0"/>
<circle class="b" cx="625.7" cy="472.1" r="4.0"/>
<circle class="b" cx="632.7" cy="501" r="4.0"/>
<circle class="b" cx="627.8" cy="505.2" r="4.0"/>
<circle class="b" cx="637.6" cy="509.2" r="4.0"/>
<circle class="b" cx="635.5" cy="517.7" r="4.0"/>
<circle class="b" cx="630.6" cy="534.3" r="4.0"/>
<circle class="b" cx="635.5" cy="538.1" r="4.0"/>
<circle class="b" cx="630.6" cy="550.5" r="4.0"/>
<circle class="b" cx="635.4" cy="562.7" r="4.0"/>
<circle class="b" cx="630.7" cy="566.9" r="4.0"/>
<circle class="b" cx="635.4" cy="585.9" r="4.0"/>
<circle class="b" cx="630.7" cy="594" r="4.0"/>
<path class="wh" d="M633.2 456.2V472.4M633.2 562.7V594.0"/>
<rect class="bx" x="623.2" y="472.4" width="19.9" height="90.3"/>
<path class="bx" d="M623.2 517.4H643.1"/>
<path class="mk" d="M631.6 454.6l3.2 3.2M634.8 454.6l-3.2 3.2"/><circle cx="633.2" cy="456.2" r=".9" fill="#222"/>
<path class="mk" d="M631.6 592.4l3.2 3.2M634.8 592.4l-3.2 3.2"/><circle cx="633.2" cy="594.0" r=".9" fill="#222"/>
<text x="97.2" y="750.4" font-size="20" style="fill:#333;stroke:#333">FB<tspan font-size="12.8" dx="0.9" dy="7.2">8</tspan></text>
<text x="135.2" y="750.4" font-size="20" style="fill:#333;stroke:#333">FB<tspan font-size="12.8" dx="0.9" dy="7.2">8</tspan></text>
<text x="178.7" y="750.4" font-size="20" style="fill:#808080;stroke:#808080">FB<tspan font-size="12.8" dx="0.9" dy="7.2">3</tspan></text>
<text x="216.7" y="750.4" font-size="20" style="fill:#333;stroke:#333">FB<tspan font-size="12.8" dx="0.9" dy="7.2">8</tspan></text>
<text x="255.0" y="750.4" font-size="20" style="fill:#000;stroke:#000">FB<tspan font-size="12.8" dx="0.9" dy="7.2">13</tspan></text>
<text x="299.4" y="750.4" font-size="20" style="fill:#808080;stroke:#808080">FB<tspan font-size="12.8" dx="0.9" dy="7.2">3</tspan></text>
<text x="338.3" y="750.4" font-size="20" style="fill:#333;stroke:#333">FB<tspan font-size="12.8" dx="0.9" dy="7.2">8</tspan></text>
<text x="376.5" y="750.4" font-size="20" style="fill:#000;stroke:#000">FB<tspan font-size="12.8" dx="0.9" dy="7.2">13</tspan></text>
<text x="420.7" y="750.4" font-size="20" style="fill:#808080;stroke:#808080">FB<tspan font-size="12.8" dx="0.9" dy="7.2">3</tspan></text>
<text x="458.1" y="750.4" font-size="20" style="fill:#333;stroke:#333">FB<tspan font-size="12.8" dx="0.9" dy="7.2">8</tspan></text>
<text x="497.1" y="750.4" font-size="20" style="fill:#000;stroke:#000">FB<tspan font-size="12.8" dx="0.9" dy="7.2">13</tspan></text>
<text x="541.3" y="750.4" font-size="20" style="fill:#808080;stroke:#808080">FB<tspan font-size="12.8" dx="0.9" dy="7.2">3</tspan></text>
<text x="580.2" y="750.4" font-size="20" style="fill:#333;stroke:#333">FB<tspan font-size="12.8" dx="0.9" dy="7.2">8</tspan></text>
<text x="618.1" y="750.4" font-size="20" style="fill:#000;stroke:#000">FB<tspan font-size="12.8" dx="0.9" dy="7.2">13</tspan></text>
<text x="369.3" y="785.4" font-size="20.4" text-anchor="middle">Fruiting branch node</text>
</svg></body></html>
